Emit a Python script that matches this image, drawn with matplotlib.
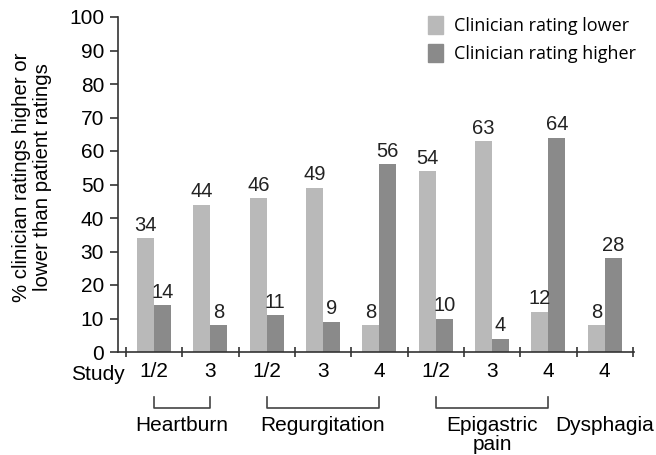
import numpy as np
import matplotlib
matplotlib.use("Agg")
import matplotlib.pyplot as plt
from matplotlib.patches import Patch

# ========================
# DATA
# ========================
studies = ["1/2", "3", "1/2", "3", "4", "1/2", "3", "4", "4"]
lower = [34, 44, 46, 49, 8, 54, 63, 12, 8]
higher = [14, 8, 11, 9, 56, 10, 4, 64, 28]
groups = [("Heartburn", 0, 1), ("Regurgitation", 2, 4), ("Epigastric\npain", 5, 7), ("Dysphagia", 8, 8)]
yticks = list(range(0, 101, 10))

LIGHT = "#b9b9b9"
DARK = "#8a8a8a"
LINE = "#333333"
FS = 15

plt.rcParams["font.family"] = ["Liberation Sans", "DejaVu Sans"]

fig = plt.figure(figsize=(6.56, 4.55), dpi=100)
ax = fig.add_axes([118 / 656, 1 - 352 / 455, (634 - 118) / 656, (352 - 17) / 455])

x = np.arange(len(studies))
w = 0.3
ax.bar(x - w / 2, lower, w, color=LIGHT)
ax.bar(x + w / 2, higher, w, color=DARK)

for xi, v in zip(x, lower):
    ax.text(xi - w / 2, v + 1.0, str(v), ha="center", va="bottom", fontsize=FS - 0.5, color="#222222")
for xi, v in zip(x, higher):
    ax.text(xi + w / 2, v + 1.0, str(v), ha="center", va="bottom", fontsize=FS - 0.5, color="#222222")

ax.set_xlim(-0.64, 8.52)
ax.set_ylim(0, 100)
ax.set_yticks(yticks)
ax.tick_params(axis="y", labelsize=FS, length=6, width=1.2, color=LINE, pad=4)

ax.set_xticks(x)
ax.set_xticklabels(studies)
ax.tick_params(axis="x", which="major", length=0, labelsize=FS, pad=7)
ax.set_xticks(np.arange(-0.5, len(studies)), minor=True)
ax.tick_params(axis="x", which="minor", length=7, width=1.2, color=LINE, direction="inout")

for s in ["top", "right"]:
    ax.spines[s].set_visible(False)
for s in ["left", "bottom"]:
    ax.spines[s].set_linewidth(1.2)
    ax.spines[s].set_color(LINE)

ax.text(-0.52, -6.6, "Study", ha="right", va="center", fontsize=FS, clip_on=False)

# group brackets and names
for name, a, b in groups:
    if b > a:
        ax.plot([a, a, b, b], [-13.4, -16.7, -16.7, -13.4], color="#444444", lw=1.2, clip_on=False)
    ax.text((a + b) / 2, -19.0, name, ha="center", va="top", fontsize=FS,
            linespacing=1.0, clip_on=False)

fig.text(32 / 656, 1 - 177 / 455, "% clinician ratings higher or\nlower than patient ratings",
         rotation=90, ha="center", va="center", fontsize=FS - 0.3, linespacing=1.1)

handles = [Patch(color=LIGHT), Patch(color=DARK)]
leg = ax.legend(handles, ["Clinician rating lower", "Clinician rating higher"],
                loc="upper left", bbox_to_anchor=(0.57, 1.05), frameon=False,
                prop={"family": "Open Sans", "size": 13}, handlelength=0.8, handleheight=1.1,
                handletextpad=0.6, labelspacing=0.5)

fig.savefig("out.png", dpi=100)
